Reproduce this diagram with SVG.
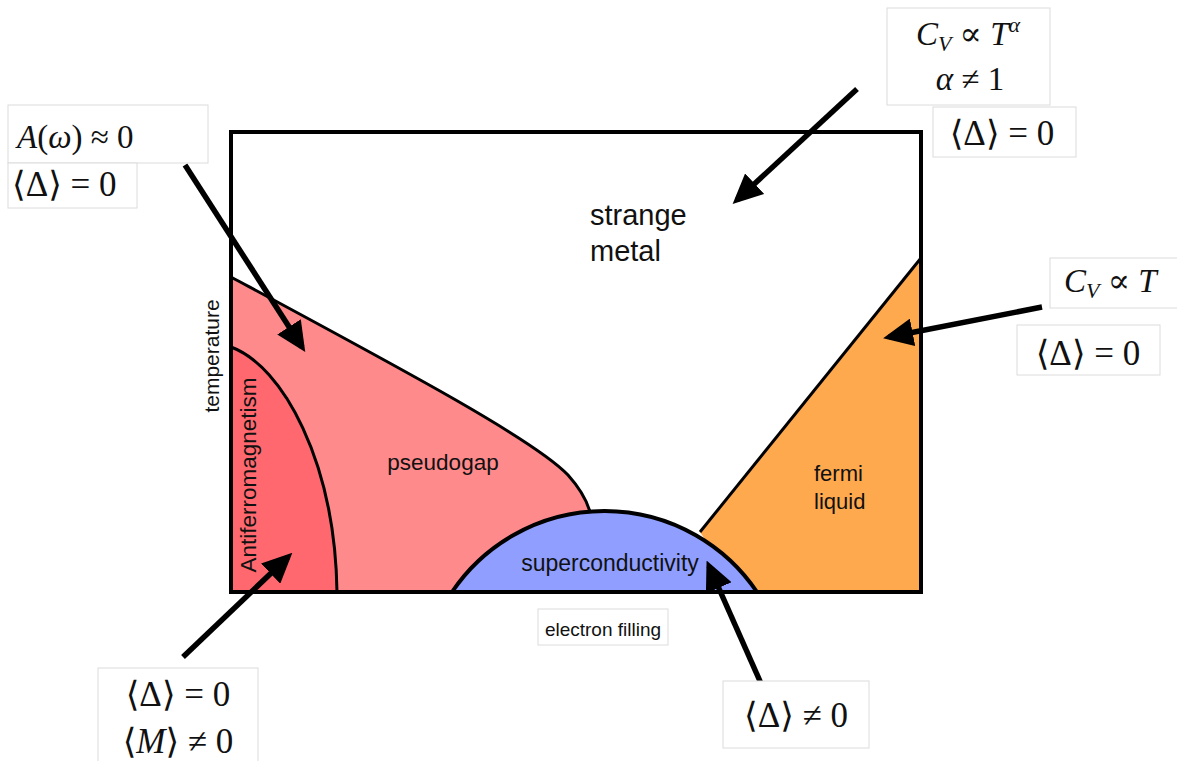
<svg xmlns="http://www.w3.org/2000/svg" width="1177" height="761" viewBox="0 0 1177 761">
<style>
.lbl{font-family:"Liberation Sans","Inter",Arial,sans-serif;fill:#111}
.math{font-family:"Liberation Serif","DejaVu Serif",serif;font-size:33px;fill:#111}
.dm{font-size:35px}
.it{font-style:italic}
.box{fill:#fff;stroke:#dcdcdc;stroke-width:1}
.arr{stroke:#000;stroke-width:5.5;fill:none;marker-end:url(#ah)}
.edge{fill:none;stroke:#000;stroke-width:3}
</style>
<defs>
<marker id="ah" markerUnits="userSpaceOnUse" viewBox="0 0 30 28" refX="24" refY="14" markerWidth="30" markerHeight="28" orient="auto">
<path d="M0,0 L30,14 L0,28 Z" fill="#000"/>
</marker>
</defs>
<rect width="1177" height="761" fill="#fff"/>

<g id="phase-regions">
<g id="pseudogap">
<path d="M231,277 C400,368 535,440 568,475 Q585,494 590,512 L600,592 L231,592 Z" fill="#FF8A8C"/>
<path class="edge" d="M231,277 C400,368 535,440 568,475 Q585,494 590,512"/>
<text class="lbl" x="443" y="470" font-size="22.5" text-anchor="middle">pseudogap</text>
</g>
<g id="antiferromagnetism">
<path d="M231,347 C283,366 335,462 337,592 L231,592 Z" fill="#FF686E"/>
<path class="edge" d="M231,347 C283,366 335,462 337,592"/>
<text class="lbl" x="0" y="0" font-size="22.5" text-anchor="middle" transform="translate(256,475) rotate(-90)">Antiferromagnetism</text>
</g>
<g id="fermi-liquid">
<path d="M700,532 L921,258 L921,592 L740,592 Z" fill="#FFA94F"/>
<path class="edge" d="M700,532 L921,258"/>
<text class="lbl" x="814" y="481" font-size="22">fermi</text>
<text class="lbl" x="814" y="509" font-size="22">liquid</text>
</g>
<g id="strange-metal">
<text class="lbl" x="590" y="225" font-size="29">strange</text>
<text class="lbl" x="590" y="261" font-size="29">metal</text>
</g>
</g>

<g id="frame">
<rect x="231" y="132" width="690" height="460" fill="none" stroke="#000" stroke-width="4"/>
<text class="lbl" x="0" y="0" font-size="21" text-anchor="middle" transform="translate(219,356) rotate(-90)">temperature</text>
<rect x="538" y="609" width="130" height="36" class="box"/>
<text class="lbl" x="603" y="636" font-size="19" text-anchor="middle">electron filling</text>
</g>

<g id="superconductivity">
<path d="M452,592 A184,184 0 0 1 757,592 Z" fill="#8F9EFF" stroke="#000" stroke-width="4" stroke-linejoin="round"/>
<text class="lbl" x="610" y="571" font-size="23" text-anchor="middle">superconductivity</text>
</g>

<g id="connectors">
<path class="arr" d="M185,165 L302,347"/>
<path class="arr" d="M857,89 L737,200"/>
<path class="arr" d="M1042,307 L889,337"/>
<path class="arr" d="M183,657 L288,557"/>
<path class="arr" d="M763,688 L709,566"/>
</g>

<g id="label-pseudogap">
<rect x="8" y="105" width="200" height="58" class="box"/>
<rect x="8" y="163" width="129" height="45" class="box"/>
<text class="math" x="17" y="148"><tspan class="it">A</tspan>(<tspan class="it">ω</tspan>) ≈ 0</text>
<text class="math dm" x="12" y="196">⟨Δ⟩ = 0</text>
</g>

<g id="label-strange-metal">
<rect x="887" y="8" width="163" height="97" class="box"/>
<text class="math" x="968" y="45" text-anchor="middle"><tspan class="it">C</tspan><tspan class="it" font-size="22" dy="6">V</tspan><tspan dy="-6"> ∝ </tspan><tspan class="it">T</tspan><tspan class="it" font-size="22" dy="-13">α</tspan></text>
<text class="math" x="970" y="90" text-anchor="middle"><tspan class="it">α</tspan> ≠ 1</text>
<rect x="933" y="107" width="143" height="50" class="box"/>
<text class="math dm" x="1002" y="145" text-anchor="middle">⟨Δ⟩ = 0</text>
</g>

<g id="label-fermi-liquid">
<rect x="1050" y="258" width="130" height="50" class="box"/>
<text class="math" x="1064" y="292"><tspan class="it">C</tspan><tspan class="it" font-size="22" dy="6">V</tspan><tspan dy="-6"> ∝ </tspan><tspan class="it">T</tspan></text>
<rect x="1017" y="325" width="143" height="50" class="box"/>
<text class="math dm" x="1088" y="365" text-anchor="middle">⟨Δ⟩ = 0</text>
</g>

<g id="label-antiferromagnetism">
<rect x="98" y="668" width="160" height="100" class="box"/>
<text class="math dm" x="178" y="706" text-anchor="middle">⟨Δ⟩ = 0</text>
<text class="math dm" x="178" y="753" text-anchor="middle">⟨<tspan class="it">M</tspan>⟩ ≠ 0</text>
</g>

<g id="label-superconductivity">
<rect x="723" y="681" width="146" height="67" class="box"/>
<text class="math dm" x="796" y="727" text-anchor="middle">⟨Δ⟩ ≠ 0</text>
</g>
</svg>
